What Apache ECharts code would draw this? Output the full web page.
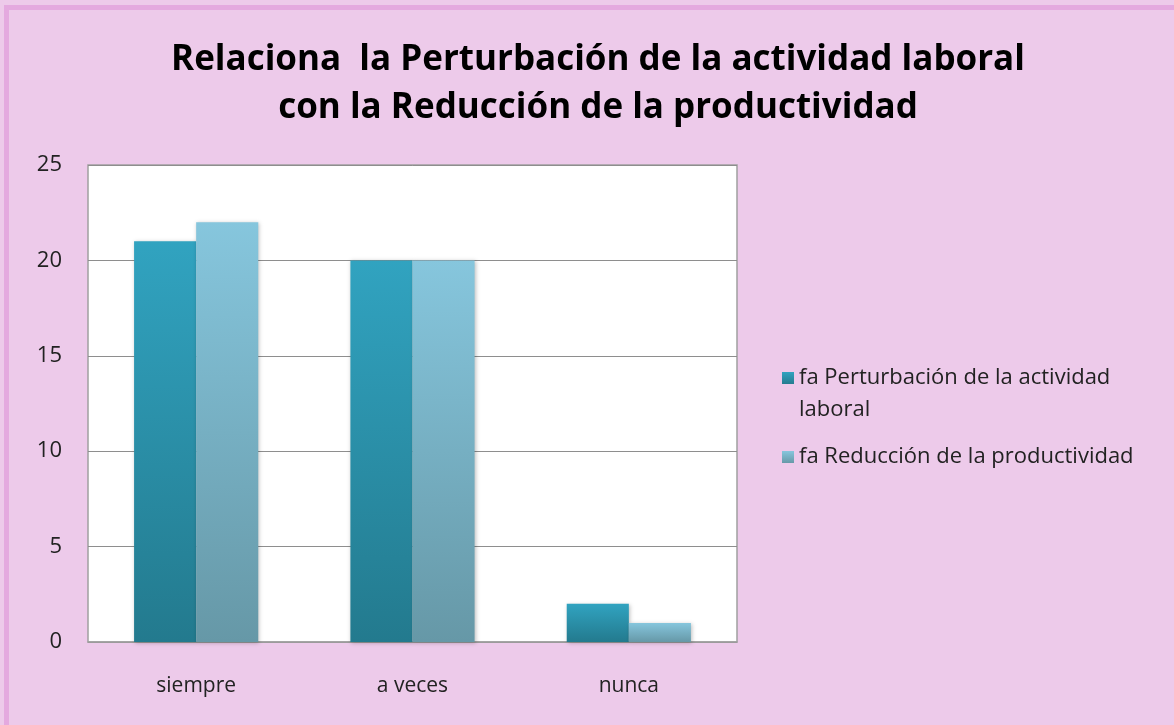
<!DOCTYPE html>
<html>
<head>
<meta charset="utf-8">
<script src="https://cdn.jsdelivr.net/npm/echarts@6/dist/echarts.min.js"></script>
<style>
  html, body { margin: 0; padding: 0; background: #EDCAEA; }
  #chart { width: 1174px; height: 725px; }
</style>
</head>
<body>
<div id="chart"></div>
<script>
// datos
var categories = ['siempre', 'a veces', 'nunca']
var seriesNames = ['fa Perturbación de la actividad laboral', 'fa Reducción de la productividad']
var perturbacion = [21, 20, 2]
var reduccion = [22, 20, 1]
var yTicks = [0, 5, 10, 15, 20, 25]

var font = '"Open Sans", "Noto Sans", sans-serif'

function grad(top, bottom) {
  return new echarts.graphic.LinearGradient(0, 0, 0, 1, [
    { offset: 0, color: top },
    { offset: 1, color: bottom }
  ])
}

var chart = echarts.init(document.getElementById('chart'))
chart.setOption({
  backgroundColor: '#EDCAEA',
  animation: false,
  title: {
    text: 'Relaciona  la Perturbación de la actividad laboral\ncon la Reducción de la productividad',
    left: 593,
    top: 31,
    textAlign: 'center',
    textStyle: {
      fontFamily: font,
      fontWeight: 'bold',
      fontSize: 35,
      lineHeight: 48,
      color: '#000'
    }
  },
  legend: {
    orient: 'vertical',
    left: 777,
    top: 325,
    itemWidth: 12,
    itemHeight: 12,
    itemGap: 15,
    icon: 'rect',
    // el nombre largo se parte en dos líneas, con el icono en la primera
    formatter: function (name) {
      var i = name.lastIndexOf(' ')
      if (name.length > 34) return ' \n' + name.slice(0, i) + '\n' + name.slice(i + 1)
      return name
    },
    textStyle: {
      fontFamily: font,
      fontSize: 22,
      lineHeight: 32,
      color: '#222'
    },
    data: [
      { name: seriesNames[0], itemStyle: { color: grad('#31A3C0', '#257C90') } },
      { name: seriesNames[1], itemStyle: { color: grad('#86C6DD', '#6799A8') } }
    ]
  },
  graphic: [{
    type: 'rect',
    silent: true,
    shape: { x: 6.5, y: 7.5, width: 1200, height: 800 },
    style: { fill: 'none', stroke: '#E4A9DF', lineWidth: 5 }
  }],
  grid: {
    left: 88,
    top: 165,
    width: 649,
    height: 477,
    show: true,
    backgroundColor: '#fff',
    borderColor: '#A0A0A0',
    borderWidth: 1.5
  },
  xAxis: {
    type: 'category',
    data: categories,
    axisTick: { show: false },
    axisLine: { lineStyle: { color: '#A0A0A0', width: 1.5 } },
    axisLabel: { fontFamily: font, fontSize: 21, color: '#222', margin: 34 }
  },
  yAxis: {
    type: 'value',
    min: yTicks[0],
    max: yTicks[yTicks.length - 1],
    interval: 5,
    axisLine: { show: false },
    axisTick: { show: false },
    axisLabel: { fontFamily: font, fontSize: 22, color: '#222', margin: 26 },
    splitLine: { lineStyle: { color: '#8E8E8E', width: 1 } }
  },
  series: [
    {
      name: seriesNames[0],
      type: 'bar',
      data: perturbacion,
      barWidth: '28.7%',
      barGap: '0%',
      itemStyle: {
        color: grad('#31A3C0', '#237A8E'),
        shadowColor: 'rgba(0,0,0,0.25)',
        shadowBlur: 4,
        shadowOffsetX: 1,
        shadowOffsetY: 1
      }
    },
    {
      name: seriesNames[1],
      type: 'bar',
      data: reduccion,
      barWidth: '28.7%',
      itemStyle: {
        color: grad('#86C6DD', '#6698A7'),
        shadowColor: 'rgba(0,0,0,0.25)',
        shadowBlur: 4,
        shadowOffsetX: 1,
        shadowOffsetY: 1
      }
    }
  ]
})
</script>
</body>
</html>
